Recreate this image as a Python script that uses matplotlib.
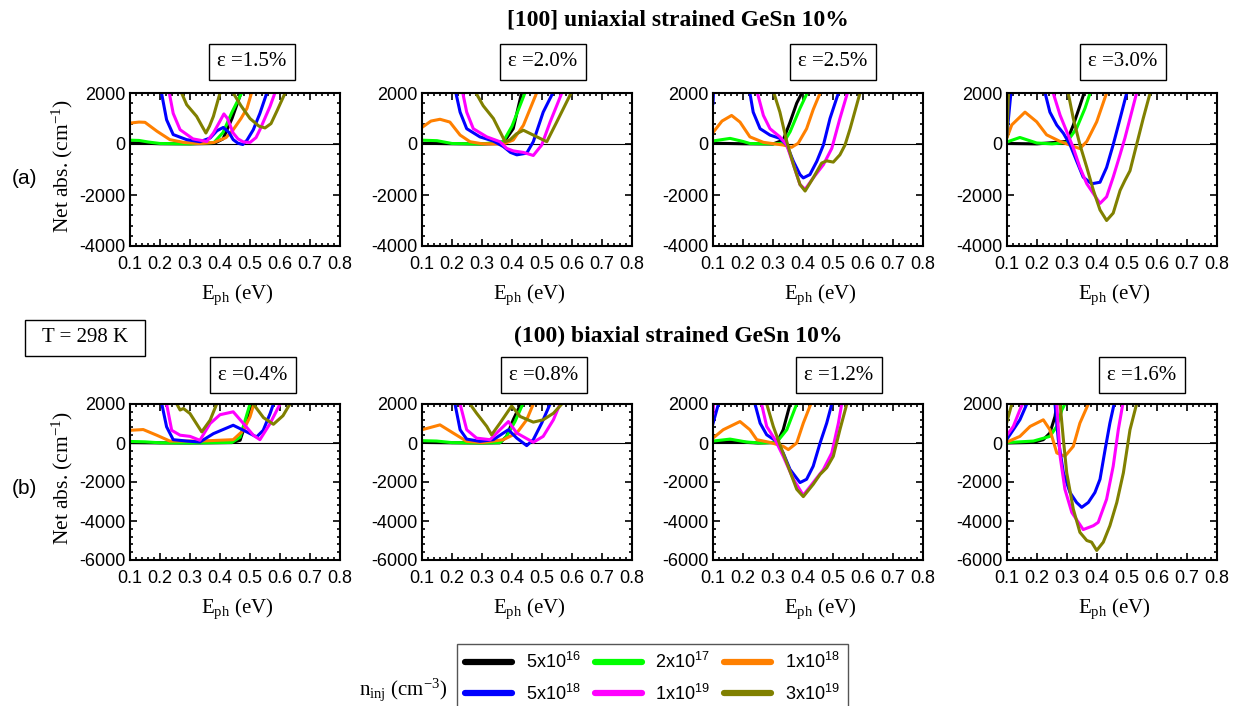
import numpy as np
import matplotlib
matplotlib.use('Agg')
import matplotlib.pyplot as plt
from matplotlib.ticker import AutoMinorLocator, MultipleLocator
from matplotlib.lines import Line2D
from matplotlib.patches import Rectangle

plt.rcParams['font.family'] = ['Liberation Sans', 'DejaVu Sans']
plt.rcParams['mathtext.default'] = 'regular'
plt.rcParams['axes.unicode_minus'] = False
SERIF = ['Liberation Serif', 'DejaVu Serif']

conc_labels = ['5x10$^{16}$', '2x10$^{17}$', '1x10$^{18}$',
               '5x10$^{18}$', '1x10$^{19}$', '3x10$^{19}$']
line_colors = ['black', '#00ff00', '#ff8000', '#0000ff', '#ff00ff', '#808000']

uni_strain = ['1.5', '2.0', '2.5', '3.0']
bi_strain = ['0.4', '0.8', '1.2', '1.6']

# (E_ph [eV], net abs [cm-1]) points, one list per n_inj
uni_15 = [
    [(0.10, 50), (0.15, 30), (0.20, 10), (0.30, 5), (0.38, 20), (0.41, 200), (0.44, 1000), (0.47, 2000), (0.49, 3000)],
    [(0.10, 150), (0.13, 140), (0.16, 80), (0.20, 20), (0.30, 5), (0.38, 60), (0.41, 450), (0.44, 1250), (0.472, 2000), (0.49, 2800)],
    [(0.10, 820), (0.13, 860), (0.15, 850), (0.19, 500), (0.233, 170), (0.28, 60), (0.33, 20), (0.38, 60), (0.42, 250), (0.444, 560),
     (0.47, 1000), (0.49, 1400), (0.505, 2000), (0.52, 2800)],
    [(0.19, 3000), (0.205, 2000), (0.222, 950), (0.244, 370), (0.289, 170), (0.333, 90), (0.367, 235), (0.39, 520), (0.411, 650),
     (0.43, 450), (0.444, 170), (0.46, 30), (0.476, -20), (0.49, 150), (0.511, 560), (0.533, 1200), (0.556, 2000), (0.57, 2800)],
    [(0.215, 3000), (0.231, 2000), (0.244, 1200), (0.267, 560), (0.31, 200), (0.356, 100), (0.378, 430), (0.40, 900), (0.413, 1180),
     (0.425, 1000), (0.444, 430), (0.46, 200), (0.478, 80), (0.50, 60), (0.52, 250), (0.533, 560), (0.567, 1480), (0.583, 2000), (0.60, 2800)],
    [(0.26, 3000), (0.272, 2000), (0.289, 1540), (0.322, 1085), (0.34, 700), (0.353, 430), (0.365, 700), (0.378, 1085), (0.40, 2000),
     (0.42, 2800), (0.444, 2000), (0.47, 1500), (0.50, 1000), (0.53, 700), (0.55, 630), (0.57, 800), (0.59, 1300), (0.617, 2000), (0.63, 2600)],
]
uni_20 = [
    [(0.10, 30), (0.20, 10), (0.30, 0), (0.37, 20), (0.404, 600), (0.432, 2000), (0.45, 3000)],
    [(0.10, 150), (0.15, 130), (0.20, 20), (0.30, 0), (0.371, 100), (0.40, 700), (0.443, 2000), (0.46, 2800)],
    [(0.10, 650), (0.13, 900), (0.16, 970), (0.193, 860), (0.227, 350), (0.26, 90), (0.30, 10), (0.371, 0), (0.404, 155), (0.438, 735),
     (0.482, 2000), (0.50, 2800)],
    [(0.20, 3000), (0.213, 2000), (0.227, 1250), (0.249, 600), (0.293, 280), (0.338, 115), (0.371, -100), (0.395, -330), (0.416, -425),
     (0.449, -360), (0.471, 90), (0.504, 1250), (0.536, 2000), (0.55, 2800)],
    [(0.225, 3000), (0.236, 2000), (0.249, 1250), (0.271, 600), (0.316, 280), (0.36, 90), (0.382, -170), (0.404, -270), (0.438, -330),
     (0.471, -450), (0.499, -40), (0.527, 860), (0.566, 2000), (0.58, 2800)],
    [(0.27, 3000), (0.28, 2000), (0.304, 1500), (0.338, 1000), (0.377, 90), (0.393, 160), (0.415, 400), (0.438, 540), (0.471, 350),
     (0.516, 90), (0.549, 860), (0.597, 2000), (0.61, 2600)],
]
uni_25 = [
    [(0.10, 30), (0.20, 10), (0.30, 0), (0.334, 155), (0.357, 860), (0.379, 1600), (0.396, 2000), (0.41, 2800)],
    [(0.10, 120), (0.157, 220), (0.20, 100), (0.223, 20), (0.30, 5), (0.334, 30), (0.357, 480), (0.39, 1400), (0.414, 2000), (0.43, 2800)],
    [(0.10, 450), (0.13, 900), (0.162, 1120), (0.19, 860), (0.223, 280), (0.268, 65), (0.334, -40), (0.362, -130), (0.384, 30),
     (0.412, 600), (0.434, 1350), (0.457, 2000), (0.47, 2800)],
    [(0.10, 1600), (0.103, 2400), (0.21, 2600), (0.223, 2000), (0.234, 1250), (0.257, 600), (0.29, 350), (0.323, 220), (0.346, -40),
     (0.368, -680), (0.39, -1200), (0.401, -1330), (0.423, -1200), (0.446, -680), (0.468, -40), (0.49, 1000), (0.518, 2000), (0.53, 2800)],
    [(0.235, 3000), (0.248, 2000), (0.268, 1120), (0.29, 600), (0.323, 280), (0.346, -40), (0.368, -810), (0.39, -1590), (0.407, -1780),
     (0.434, -1330), (0.468, -810), (0.496, -170), (0.523, 1000), (0.548, 2000), (0.56, 2800)],
    [(0.29, 3000), (0.303, 2000), (0.323, 1250), (0.346, 90), (0.368, -810), (0.39, -1590), (0.407, -1845), (0.434, -1330), (0.462, -750),
     (0.479, -660), (0.501, -710), (0.523, -425), (0.54, -40), (0.557, 600), (0.59, 2000), (0.60, 2600)],
]
uni_30 = [
    [(0.10, 20), (0.20, 5), (0.299, 100), (0.321, 740), (0.343, 1500), (0.357, 2000), (0.37, 2800)],
    [(0.10, 80), (0.143, 256), (0.199, 40), (0.25, 5), (0.299, 60), (0.332, 615), (0.36, 1400), (0.377, 2000), (0.39, 2800)],
    [(0.10, 250), (0.116, 750), (0.16, 1250), (0.199, 870), (0.232, 360), (0.277, 100), (0.321, -90), (0.343, -180), (0.366, 100),
     (0.399, 870), (0.432, 2000), (0.445, 2800)],
    [(0.10, 400), (0.113, 2000), (0.12, 2800), (0.215, 2800), (0.227, 2000), (0.243, 1250), (0.266, 740), (0.288, 420), (0.31, -25),
     (0.332, -665), (0.354, -1300), (0.382, -1560), (0.41, -1500), (0.432, -920), (0.454, -25), (0.477, 1000), (0.499, 2000), (0.51, 2800)],
    [(0.10, 3000), (0.24, 3000), (0.254, 2000), (0.277, 1130), (0.299, 490), (0.321, -150), (0.343, -920), (0.366, -1560), (0.41, -2330),
     (0.432, -2070), (0.454, -1300), (0.477, -410), (0.493, 230), (0.51, 1000), (0.532, 2000), (0.545, 2800)],
    [(0.10, 300), (0.105, 2000), (0.11, 2800), (0.29, 2800), (0.304, 2000), (0.321, 1000), (0.343, -25), (0.366, -920), (0.388, -1820),
     (0.41, -2585), (0.432, -3000), (0.454, -2710), (0.477, -1820), (0.493, -1430), (0.51, -1050), (0.532, -25), (0.554, 1000),
     (0.577, 2000), (0.59, 2800)],
]
bi_04 = [
    [(0.10, 20), (0.20, 5), (0.30, 0), (0.44, 20), (0.467, 140), (0.489, 1170), (0.505, 2000), (0.52, 2800)],
    [(0.10, 80), (0.15, 60), (0.20, 10), (0.30, 0), (0.44, 30), (0.467, 300), (0.50, 2000), (0.515, 2800)],
    [(0.10, 650), (0.144, 690), (0.189, 400), (0.233, 100), (0.333, 100), (0.444, 170), (0.478, 650), (0.50, 1340), (0.513, 2000), (0.53, 2800)],
    [(0.19, 3000), (0.206, 2000), (0.222, 830), (0.244, 170), (0.289, 100), (0.333, 50), (0.378, 480), (0.444, 910), (0.489, 570),
     (0.522, 310), (0.544, 650), (0.567, 1510), (0.578, 2000), (0.59, 2800)],
    [(0.21, 3000), (0.222, 2000), (0.239, 650), (0.267, 400), (0.30, 340), (0.333, 140), (0.367, 1000), (0.40, 1450), (0.444, 1600),
     (0.478, 1000), (0.511, 400), (0.533, 170), (0.567, 1000), (0.60, 2000), (0.615, 2800)],
    [(0.245, 3000), (0.256, 2000), (0.267, 1690), (0.278, 1770), (0.30, 1510), (0.339, 570), (0.367, 1170), (0.389, 2000), (0.42, 2800),
     (0.511, 2000), (0.545, 1300), (0.578, 960), (0.61, 1400), (0.633, 2000), (0.645, 2600)],
]
bi_08 = [
    [(0.10, 30), (0.20, 10), (0.30, 0), (0.36, 10), (0.382, 340), (0.404, 1190), (0.429, 2000), (0.44, 2800)],
    [(0.10, 120), (0.149, 100), (0.20, 20), (0.30, 0), (0.36, 20), (0.382, 340), (0.41, 1100), (0.436, 2000), (0.45, 2800)],
    [(0.10, 680), (0.16, 930), (0.204, 510), (0.249, 85), (0.30, 20), (0.371, 170), (0.416, 510), (0.449, 1190), (0.471, 2000), (0.485, 2800)],
    [(0.20, 3000), (0.21, 2000), (0.227, 680), (0.249, 200), (0.293, 85), (0.338, 170), (0.371, 510), (0.388, 680), (0.416, 250),
     (0.449, -135), (0.471, 170), (0.499, 1020), (0.527, 2000), (0.54, 2800)],
    [(0.215, 3000), (0.227, 2000), (0.249, 680), (0.282, 250), (0.327, 170), (0.36, 680), (0.388, 1100), (0.416, 510), (0.471, 35),
     (0.504, 340), (0.538, 1190), (0.56, 2000), (0.575, 2800)],
    [(0.25, 3000), (0.26, 2000), (0.282, 1525), (0.316, 850), (0.332, 420), (0.36, 1020), (0.399, 1900), (0.427, 1360), (0.471, 1070),
     (0.504, 1190), (0.538, 1525), (0.566, 2000), (0.58, 2600)],
]
bi_12 = [
    [(0.10, 30), (0.155, 60), (0.20, 40), (0.25, 0), (0.30, 20), (0.318, 170), (0.334, 680), (0.357, 2000), (0.37, 2800)],
    [(0.10, 100), (0.157, 200), (0.212, 50), (0.26, 0), (0.312, 30), (0.346, 680), (0.379, 2000), (0.39, 2800)],
    [(0.10, 250), (0.134, 680), (0.19, 1100), (0.223, 680), (0.246, 170), (0.29, 30), (0.334, -170), (0.351, -340), (0.379, 0),
     (0.401, 1020), (0.426, 2000), (0.44, 2800)],
    [(0.10, 1000), (0.118, 2000), (0.125, 2800), (0.23, 2800), (0.24, 2000), (0.257, 1020), (0.279, 420), (0.312, 85), (0.334, -510),
     (0.357, -1360), (0.39, -2030), (0.412, -1860), (0.434, -1190), (0.457, 0), (0.479, 1020), (0.496, 2000), (0.51, 2800)],
    [(0.10, 1500), (0.105, 2800), (0.25, 2800), (0.262, 2000), (0.279, 850), (0.307, 170), (0.334, -680), (0.368, -1860), (0.401, -2680),
     (0.434, -2030), (0.468, -1360), (0.496, -510), (0.518, 1020), (0.529, 2000), (0.54, 2800)],
    [(0.27, 3000), (0.279, 2000), (0.301, 850), (0.323, -85), (0.346, -1020), (0.379, -2370), (0.401, -2750), (0.434, -2120),
     (0.457, -1610), (0.479, -1270), (0.501, -680), (0.523, 680), (0.546, 2000), (0.56, 2800)],
]
bi_16 = [
    [(0.10, 0), (0.188, 30), (0.221, 170), (0.243, 510), (0.26, 1360), (0.266, 2000), (0.275, 2800)],
    [(0.10, 20), (0.188, 100), (0.243, 340), (0.266, 850), (0.283, 1700), (0.293, 2000), (0.30, 2800)],
    [(0.10, 50), (0.143, 340), (0.177, 850), (0.221, 1190), (0.243, 680), (0.266, -510), (0.293, -680), (0.321, -170), (0.343, 1020),
     (0.371, 2000), (0.385, 2800)],
    [(0.10, 200), (0.121, 680), (0.143, 1190), (0.166, 2000), (0.175, 2800), (0.25, 2800), (0.26, 2000), (0.271, 170), (0.288, -1525),
     (0.31, -2540), (0.332, -3050), (0.349, -3300), (0.371, -3050), (0.393, -2540), (0.41, -1860), (0.427, -340), (0.443, 1020),
     (0.457, 2000), (0.47, 2800)],
    [(0.10, 400), (0.121, 850), (0.143, 1700), (0.152, 2000), (0.16, 2800), (0.255, 2800), (0.266, 2000), (0.277, -680), (0.293, -2370),
     (0.316, -3560), (0.354, -4440), (0.388, -4240), (0.404, -4070), (0.432, -2880), (0.454, -1190), (0.471, 680), (0.486, 2000), (0.50, 2800)],
    [(0.10, 1100), (0.116, 2000), (0.125, 2800), (0.265, 2800), (0.277, 2000), (0.288, 170), (0.299, -1525), (0.321, -3390),
     (0.343, -4580), (0.366, -5000), (0.382, -5085), (0.399, -5510), (0.421, -5085), (0.443, -4240), (0.466, -3050), (0.488, -1525),
     (0.51, 680), (0.532, 2000), (0.545, 2800)],
]

W, H = 1245, 706
fig = plt.figure(figsize=(W / 100, H / 100), dpi=100)

def px_axes(left, top, width, bottom):
    return fig.add_axes([left / W, 1 - bottom / H, width / W, (bottom - top) / H])

panel_lefts = [130, 422, 713, 1007]
panel_width = 210

rows = [
    dict(panels=[uni_15, uni_20, uni_25, uni_30], strains=uni_strain, top=93, bottom=246, ymin=-4000,
         title='[100] uniaxial strained GeSn 10%', title_y=20, box_y=62, box_x=[252, 543, 833, 1123],
         xlab_y=295, tag='(a)', tag_y=178),
    dict(panels=[bi_04, bi_08, bi_12, bi_16], strains=bi_strain, top=404, bottom=560, ymin=-6000,
         title='(100) biaxial strained GeSn 10%', title_y=336, box_y=375, box_x=[253, 544, 839, 1142],
         xlab_y=609, tag='(b)', tag_y=488),
]

for row in rows:
    for i, panel in enumerate(row['panels']):
        ax = px_axes(panel_lefts[i], row['top'], panel_width, row['bottom'])
        ax.axhline(0, color='black', lw=0.8, zorder=1)
        for pts, c in zip(panel, line_colors):
            pts = np.array(pts)
            ax.plot(pts[:, 0], pts[:, 1], color=c, lw=2.2, zorder=2)
        ax.set_xlim(0.1, 0.8)
        ax.set_ylim(row['ymin'], 2000)
        ax.yaxis.set_major_locator(MultipleLocator(2000))
        ax.set_xticks(np.arange(0.1, 0.81, 0.1))
        ax.set_xticklabels(['%.1f' % v for v in np.arange(0.1, 0.81, 0.1)])
        ax.xaxis.set_minor_locator(AutoMinorLocator(5))
        ax.yaxis.set_minor_locator(AutoMinorLocator(5))
        ax.tick_params(which='both', direction='in', top=True, right=True, labelsize=13, width=1.2)
        ax.tick_params(which='major', length=5)
        ax.tick_params(which='minor', length=2.5)
        ax.tick_params(axis='x', which='major', pad=7)
        for s in ax.spines.values():
            s.set_linewidth(1.5)
        fig.text(row['box_x'][i] / W, 1 - row['box_y'] / H, 'ε =%s%%' % row['strains'][i],
                 family=SERIF, fontsize=15, ha='center', va='center',
                 bbox=dict(boxstyle='square,pad=0.42', fc='white', ec='black', lw=1))
        fig.text((panel_lefts[i] + panel_width / 2 + 2) / W, 1 - row['xlab_y'] / H, 'E$_{ph}$ (eV)',
                 family=SERIF, fontsize=15, ha='center', va='center')
    fig.text(678 / W, 1 - row['title_y'] / H, row['title'], family=SERIF, fontsize=17,
             fontweight='bold', ha='center', va='center')
    fig.text(62 / W, 1 - ((row['top'] + row['bottom']) / 2 - 4) / H, 'Net abs. (cm$^{-1}$)', family=SERIF,
             fontsize=15.5, rotation=90, ha='center', va='center')
    fig.text(24 / W, 1 - row['tag_y'] / H, row['tag'], fontsize=15, ha='center', va='center')

fig.patches.append(Rectangle((25 / W, 1 - 356 / H), 120 / W, 36 / H, transform=fig.transFigure,
                             fill=False, ec='black', lw=1))
fig.text(85 / W, 1 - 338 / H, 'T = 298 K', family=SERIF, fontsize=15, ha='center', va='center')

# legend, filled column-wise so reorder to read row-wise
order = [0, 3, 1, 4, 2, 5]
handles = [Line2D([], [], color=line_colors[k], lw=4.5, solid_capstyle='round') for k in order]
labels = [conc_labels[k] for k in order]
leg = fig.legend(handles, labels, loc='upper left', bbox_to_anchor=(457 / W, 1 - 644 / H), ncol=3,
                 fontsize=13, frameon=True, fancybox=False, edgecolor='#555555', framealpha=1,
                 borderaxespad=0, borderpad=0.45, handlelength=2.6, handletextpad=0.75,
                 columnspacing=0.8, labelspacing=0.62)
leg.get_frame().set_linewidth(1)
fig.text(403 / W, 1 - 690 / H, 'n$_{inj}$ (cm$^{-3}$)', family=SERIF, fontsize=15, ha='center', va='center')

fig.savefig('out.png', dpi=100)
